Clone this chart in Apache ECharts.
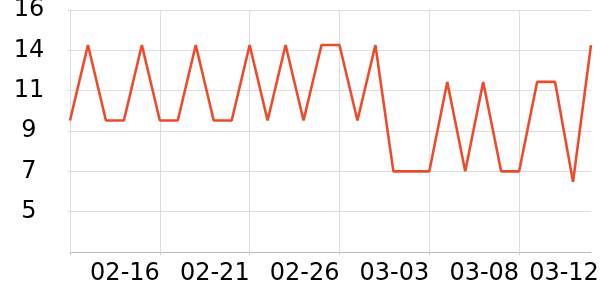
<!DOCTYPE html>
<html>
<head>
<meta charset="utf-8">
<script src="https://cdn.jsdelivr.net/npm/echarts@6/dist/echarts.min.js"></script>
<style>html,body{margin:0;padding:0;background:#fff;}#c{width:600px;height:300px;}</style>
</head>
<body>
<div id="c"></div>
<script>
var dates = ['02-11','02-12','02-13','02-14','02-15','02-16','02-17','02-18','02-19','02-20',
             '02-21','02-22','02-23','02-24','02-25','02-26','02-27','02-28','03-01','03-02',
             '03-03','03-04','03-05','03-06','03-07','03-08','03-09','03-10','03-11','03-12'];
var values = [9.7,14,9.7,9.7,14,9.7,9.7,14,9.7,9.7,
              14,9.7,14,9.7,14,14,9.7,14,6.8,6.8,
              6.8,11.9,6.8,11.9,6.8,6.8,11.9,11.9,6.2,14];
var yMin = 2.2, yMax = 16, yStep = 2.3;
var labelIdx = [5,10,15,20,25,29];

var chart = echarts.init(document.getElementById('c'), null, {renderer:'canvas'});
chart.setOption({
  animation: false,
  grid: {left:70, right:9, top:10, bottom:48, containLabel:false, outerBoundsMode:'none'},
  xAxis: {
    type:'category', data: dates, boundaryGap:false,
    axisLine:{show:true, lineStyle:{color:'#bbbbbb', width:1}},
    axisTick:{show:true, length:3, interval:function(i){return i%5===0;}, lineStyle:{color:'#cccccc'}},
    splitLine:{show:true, interval:function(i){return i%5===0 && i>0;}, lineStyle:{color:'#dddddd', width:1}},
    axisLabel:{
      interval:function(i){return labelIdx.indexOf(i)>=0;},
      align:'right', alignMaxLabel:'center', margin:10, color:'#000', fontSize:24, fontFamily:'DejaVu Sans',
      formatter:function(v, i){ return i === dates.length-1 ? '{b|' + v + '}{s| }' : v; },
      rich:{
        b:{color:'#000', fontSize:24, fontFamily:'DejaVu Sans'},
        s:{width:54, fontSize:24}
      }
    }
  },
  yAxis: {
    type:'value', min:yMin, max:yMax, interval:yStep,
    axisLine:{show:true, lineStyle:{color:'#dddddd'}},
    axisTick:{show:true, length:2, lineStyle:{color:'#dddddd'}},
    splitLine:{show:true, lineStyle:{color:'#dddddd', width:1}},
    axisLabel:{
      showMinLabel:false, align:'center', margin:41, color:'#000', fontSize:24, fontFamily:'DejaVu Sans',
      formatter:function(v){return String(Math.round(v));}
    }
  },
  series: [{
    type:'line', data: values, symbol:'none',
    lineStyle:{color:'#ee4a2c', width:2.6},
    itemStyle:{color:'#ee4a2c'}
  }]
});
</script>
</body>
</html>
